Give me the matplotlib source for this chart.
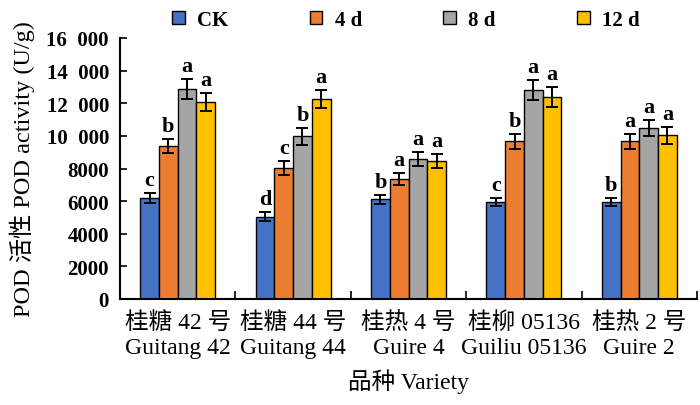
import numpy as np
import matplotlib
matplotlib.use("Agg")
import matplotlib.pyplot as plt
from matplotlib.ticker import FixedLocator, FuncFormatter

plt.rcParams['font.family'] = ['Liberation Serif', 'Noto Sans CJK SC']

# data
varieties = ['桂糖 42 号\nGuitang 42', '桂糖 44 号\nGuitang 44', '桂热 4 号\nGuire 4',
             '桂柳 05136\nGuiliu 05136', '桂热 2 号\nGuire 2']
series = ['CK', '4 d', '8 d', '12 d']
ck = [6200, 5050, 6100, 5950, 5950]
d4 = [9380, 8010, 7370, 9670, 9670]
d8 = [12900, 9970, 8580, 12810, 10480]
d12 = [12100, 12250, 8440, 12360, 10040]
ck_err = [290, 270, 290, 260, 260]
d4_err = [450, 430, 370, 470, 470]
d8_err = [610, 500, 410, 590, 510]
d12_err = [550, 550, 430, 610, 530]
letters_ck = ['c', 'd', 'b', 'c', 'b']
letters_d4 = ['b', 'c', 'a', 'b', 'a']
letters_d8 = ['a', 'b', 'a', 'a', 'a']
letters_d12 = ['a', 'a', 'a', 'a', 'a']

values = [ck, d4, d8, d12]
errors = [ck_err, d4_err, d8_err, d12_err]
letters = [letters_ck, letters_d4, letters_d8, letters_d12]
colors = ['#4472C4', '#ED7D31', '#A5A5A5', '#FFC000']

fig = plt.figure(figsize=(7, 4.06), dpi=100)
ax = fig.add_axes([120 / 700, 1 - 300 / 406, 577 / 700, 261 / 406])

x = np.arange(len(varieties))
w = 0.1625
handles = []
for i in range(4):
    pos = x + (i - 1.5) * w
    b = ax.bar(pos, values[i], width=w, color=colors[i], edgecolor='black',
               linewidth=1.0, zorder=2)
    handles.append(b)
    ax.errorbar(pos, values[i], yerr=errors[i], fmt='none', ecolor='black',
                elinewidth=1.4, capsize=4, capthick=1.4, zorder=3)
    for px, v, e, t in zip(pos, values[i], errors[i], letters[i]):
        ax.text(px, v + e + 180, t, ha='center', va='bottom', fontsize=16,
                fontweight='bold')

ax.set_xlim(-0.5, 4.5)
ax.set_ylim(0, 16000)
ax.set_yticks(np.arange(0, 16001, 2000))
ax.yaxis.set_major_formatter(FuncFormatter(
    lambda v, p: f'{int(v)//1000}\u2002000' if v >= 10000 else f'{int(v)}'))
for lab in ax.get_yticklabels():
    lab.set_fontweight('bold')
ax.tick_params(axis='y', direction='in', length=5, width=1.2, labelsize=15, pad=8)

ax.set_xticks(x)
ax.set_xticklabels(varieties, fontsize=17, linespacing=1.25)
ax.tick_params(axis='x', which='major', length=0, pad=9)
ax.xaxis.set_minor_locator(FixedLocator(np.arange(-0.5, 4.6, 1.0)))
ax.tick_params(axis='x', which='minor', direction='in', length=6, width=1.2)

for s in ['top', 'right']:
    ax.spines[s].set_visible(False)
for s in ['left', 'bottom']:
    ax.spines[s].set_linewidth(1.5)

ax.set_xlabel('品种 Variety', fontsize=17, labelpad=7)
ax.set_ylabel('POD 活性 POD activity (U/g)', fontsize=17.5, labelpad=8)

fig.legend(handles, series, loc='upper center', bbox_to_anchor=(0.58, 1.02),
           ncol=4, frameon=False, columnspacing=3.9, handlelength=0.6,
           handleheight=0.6, handletextpad=0.6,
           prop={'weight': 'bold', 'size': 15})

fig.savefig('out.png', dpi=100)
